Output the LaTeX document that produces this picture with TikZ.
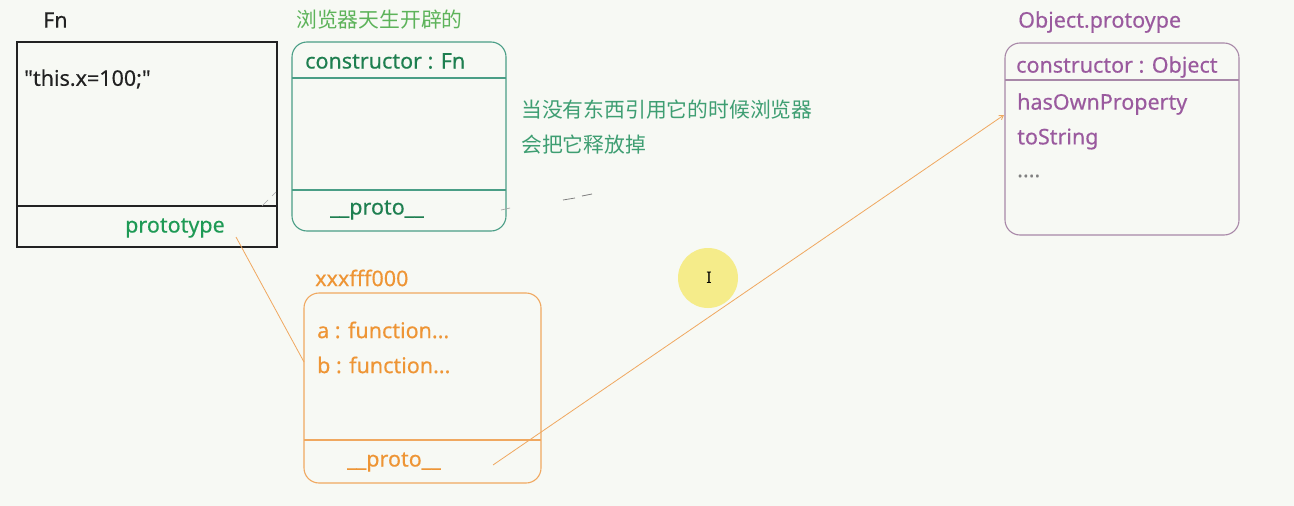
\documentclass[tikz,border=0pt]{standalone}
\usepackage{fontspec}
\setmainfont{Noto Sans}[BoldFont={Noto Sans},BoldFeatures={FakeBold=0.35}]
\newfontfamily\codefont{Noto Sans}[BoldFont={Noto Sans},BoldFeatures={FakeBold=0.35}]
\newfontfamily\cjk{Noto Sans CJK SC}
\usetikzlibrary{arrows.meta}
\definecolor{bg}{HTML}{F7F9F4}
\definecolor{fnblack}{HTML}{222222}
\definecolor{protogreen}{HTML}{1E9A55}
\definecolor{tealbox}{HTML}{4A9E86}
\definecolor{ctorgreen}{HTML}{1E7F50}
\definecolor{labelgreen}{HTML}{5DB35A}
\definecolor{notegreen}{HTML}{3E9E72}
\definecolor{orangeline}{HTML}{F0A860}
\definecolor{orangetext}{HTML}{EE9535}
\definecolor{purpleline}{HTML}{A888A8}
\definecolor{purpletext}{HTML}{9A5A9E}
\definecolor{yellowdot}{HTML}{F5EC8A}
\begin{document}
\begin{tikzpicture}[x=1pt,y=-1pt,
  lbl/.style={anchor=west,inner sep=0pt,font=\fontsize{21.5}{24}\selectfont\bfseries},
  cjklbl/.style={anchor=west,inner sep=0pt,font=\cjk\fontsize{20.8}{24}\selectfont},
  rbox/.style={rounded corners=15pt,line width=1.1pt}]
\fill[bg] (0,0) rectangle (1294,506);
\useasboundingbox (0,0) rectangle (1294,506);
% Fn box
\node[lbl,text=fnblack] (fnlabel) at (43,20) {Fn};
\draw[fnblack,line width=1.1pt] (17,42) rectangle (277,247);
\draw[fnblack,line width=1.1pt] (17,206) -- (277,206);
\node[lbl,text=fnblack,font=\codefont\fontsize{21.5}{24}\selectfont\bfseries] (code) at (24,79) {"this.x=100;"};
\node[lbl,text=protogreen] (prototype) at (125,228) {prototype};
% green box
\node[cjklbl,text=labelgreen] (gtitle) at (296,20) {浏览器天生开辟的};
\draw[rbox,tealbox] (292,42) rectangle (506,231);
\draw[tealbox,line width=1.1pt] (292,78) -- (506,78);
\draw[tealbox,line width=1.1pt] (292,190) -- (506,190);
\node[lbl,text=ctorgreen] (ctorfn) at (305,61) {constructor : Fn};
\node[lbl,text=ctorgreen] (gproto) at (330,210) {\_\_proto\_\_};
% note
\node[cjklbl,text=notegreen] (note1) at (521,110) {当没有东西引用它的时候浏览器};
\node[cjklbl,text=notegreen] (note2) at (521,145) {会把它释放掉};
% orange box
\node[lbl,text=orangetext] (otitle) at (315,278) {xxxfff000};
\draw[rbox,orangeline] (304,293) rectangle (541,483);
\draw[orangeline,line width=1.1pt] (304,440) -- (541,440);
\node[lbl,text=orangetext] (fa) at (317,330) {a : function...};
\node[lbl,text=orangetext] (fb) at (317,365) {b : function...};
\node[lbl,text=orangetext] (oproto) at (347,462) {\_\_proto\_\_};
% purple box
\node[lbl,text=purpletext] (ptitle) at (1018,22) {Object.protoype};
\draw[rbox,purpleline] (1005,43) rectangle (1239,235);
\draw[purpleline,line width=1.1pt] (1005,80) -- (1239,80);
\node[lbl,text=purpletext] (ctorobj) at (1016,67) {constructor : Object};
\node[lbl,text=purpletext] (hop) at (1017,104) {hasOwnProperty};
\node[lbl,text=purpletext] (tostr) at (1017,139) {toString};
\node[lbl,text=gray] (dots) at (1017,176) {....};
% connectors
\coordinate (pa) at (236,237);
\coordinate (pb) at (304,362);
\draw[orangeline,line width=0.8pt] (pa) -- (pb);
\coordinate (qa) at (493,465);
\coordinate (qb) at (1004,115);
\draw[orangeline,line width=0.8pt,-{Straight Barb[length=4pt,width=5pt]}] (qa) -- (qb);
% stray marks
\draw[gray,line width=0.8pt] (563,200) -- (575,198) (582,196) -- (592,194);
\draw[gray!70,line width=0.7pt] (262,206) -- (268,200) (272,196) -- (276,192);
\draw[gray!70,line width=0.7pt] (501,210) -- (510,208);
% cursor highlight
\fill[yellowdot] (708,278) circle (30pt);
\node[inner sep=0pt,font=\fontsize{16}{16}\selectfont,text=black] (cursor) at (709,278) {I};
\end{tikzpicture}
\end{document}
